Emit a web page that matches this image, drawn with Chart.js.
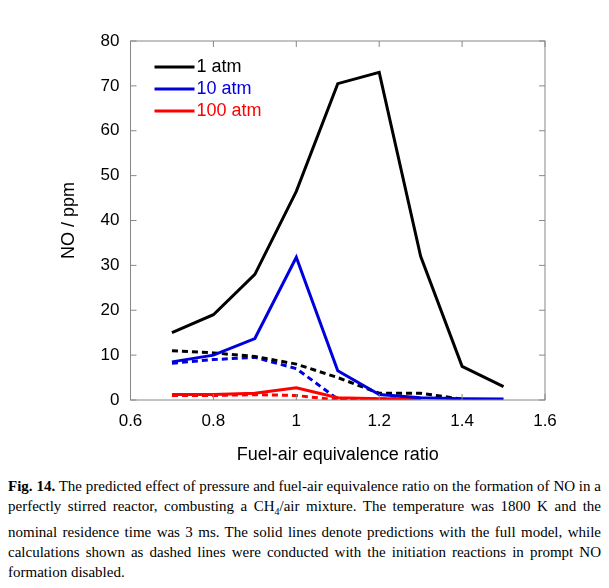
<!DOCTYPE html>
<html><head><meta charset="utf-8">
<script src="https://cdn.jsdelivr.net/npm/chart.js@4/dist/chart.umd.min.js"></script>
<style>
body{margin:0;background:#fff;font-family:"Liberation Sans",Arial,sans-serif}
#wrap{position:relative;width:609px;height:470px}
#cap{margin:6px 8px 0 8px;font-family:"Liberation Serif",serif;font-size:15px;line-height:20px;text-align:justify;color:#000}
</style></head><body>
<div id="wrap"><canvas id="c"></canvas></div>
<div id="cap"><b>Fig. 14.</b> The predicted effect of pressure and fuel-air equivalence ratio on the formation of NO in a perfectly stirred reactor, combusting a CH<sub style="font-size:10px">4</sub>/air mixture. The temperature was 1800 K and the nominal residence time was 3 ms. The solid lines denote predictions with the full model, while calculations shown as dashed lines were conducted with the initiation reactions in prompt NO formation disabled.</div>
<script>
const phi = [0.7, 0.8, 0.9, 1.0, 1.1, 1.2, 1.3, 1.4, 1.5];
const no1atm = [15, 19, 28, 46.5, 70.5, 73, 32, 7.5, 3];
const no10atm = [8.5, 10, 13.7, 31.8, 6.5, 1.2, 0.5, 0.3, 0.2];
const no100atm = [1.2, 1.2, 1.5, 2.7, 0.5, 0.3, 0.2];
const no1atmNoPrompt = [11, 10.5, 9.7, 8, 5, 1.5, 1.5, 0.2];
const no10atmNoPrompt = [8.2, 9, 9.5, 7, 0.2, 0.2, 0.2];
const no100atmNoPrompt = [1, 1, 1.2, 1, 0, 0];
const legendNames = ['1 atm', '10 atm', '100 atm'];
const colors = ['#000000', '#0000dd', '#ff0000'];

const pts = ys => ys.map((y, i) => ({x: phi[i], y: y}));
const ds = (ys, col, dash) => ({data: pts(ys), borderColor: col, borderWidth: 3, borderDash: dash ? [6, 4] : [], pointRadius: 0, tension: 0});

const innerTicks = {
  id: 'innerTicks',
  afterDraw(chart) {
    const {ctx, chartArea: a, scales: {x, y}} = chart;
    ctx.save();
    ctx.strokeStyle = '#888'; ctx.lineWidth = 1;
    ctx.strokeRect(a.left, a.top, a.right - a.left, a.bottom - a.top);
    x.ticks.forEach(t => {
      const px = x.getPixelForValue(t.value);
      ctx.beginPath(); ctx.moveTo(px, a.bottom); ctx.lineTo(px, a.bottom - 6);
      ctx.moveTo(px, a.top); ctx.lineTo(px, a.top + 6); ctx.stroke();
    });
    y.ticks.forEach(t => {
      const py = y.getPixelForValue(t.value);
      ctx.beginPath(); ctx.moveTo(a.left, py); ctx.lineTo(a.left + 6, py);
      ctx.moveTo(a.right, py); ctx.lineTo(a.right - 6, py); ctx.stroke();
    });
    // legend
    ctx.font = '18px "Liberation Sans", Arial, sans-serif';
    ctx.textBaseline = 'middle';
    legendNames.forEach((n, i) => {
      const ly = a.top + 26 + i * 22;
      ctx.strokeStyle = colors[i]; ctx.lineWidth = 3;
      ctx.beginPath(); ctx.moveTo(a.left + 24, ly); ctx.lineTo(a.left + 64, ly); ctx.stroke();
      ctx.fillStyle = colors[i]; ctx.fillText(n, a.left + 66, ly);
    });
    ctx.restore();
  }
};

new Chart(document.getElementById('c'), {
  type: 'line',
  data: {datasets: [
    ds(no1atm, colors[0], false), ds(no10atm, colors[1], false), ds(no100atm, colors[2], false),
    ds(no1atmNoPrompt, colors[0], true), ds(no10atmNoPrompt, colors[1], true), ds(no100atmNoPrompt, colors[2], true)
  ]},
  options: {
    responsive: true, maintainAspectRatio: false, animation: false,
    layout: {padding: {left: 54, right: 64, top: 41, bottom: 0}},
    plugins: {legend: {display: false}, tooltip: {enabled: false}},
    scales: {
      x: {type: 'linear', min: 0.6, max: 1.6, border: {display: false},
        grid: {display: false},
        ticks: {stepSize: 0.2, color: '#000', font: {size: 17, family: '"Liberation Sans", Arial'}, callback: v => +v.toFixed(1)},
        title: {display: true, text: 'Fuel-air equivalence ratio', color: '#000', font: {size: 18, family: '"Liberation Sans", Arial'}, padding: {top: 10}}},
      y: {min: 0, max: 80, border: {display: false}, grid: {display: false},
        ticks: {stepSize: 10, color: '#000', font: {size: 17, family: '"Liberation Sans", Arial'}},
        title: {display: true, text: 'NO / ppm', color: '#000', font: {size: 18, family: '"Liberation Sans", Arial'}, padding: {bottom: 18}}}
    }
  },
  plugins: [innerTicks]
});
</script></body></html>
